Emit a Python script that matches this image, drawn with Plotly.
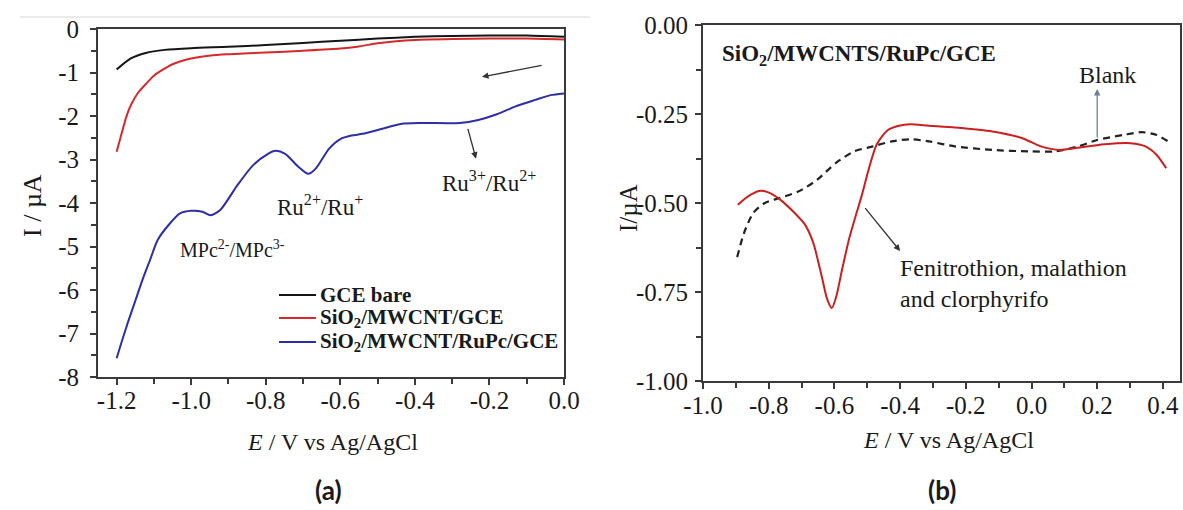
import plotly.graph_objects as go

W, H = 1183, 510
SERIF = "Liberation Serif"
INK = "#1a1a1a"
AXIS = "#3a3a3a"

# ---------------- panel (a): linear sweep voltammograms ----------------
series_names = ["GCE bare", "SiO<sub>2</sub>/MWCNT/GCE", "SiO<sub>2</sub>/MWCNT/RuPc/GCE"]
series_colors = ["#151515", "#d42a2a", "#2e2ea8"]

e_bare = [-1.2, -1.163, -1.122, -1.071, -1.0, -0.9, -0.8, -0.7, -0.6, -0.5,
          -0.4, -0.3, -0.2, -0.1, 0.0]
i_bare = [-0.93, -0.68, -0.55, -0.48, -0.44, -0.41, -0.37, -0.32, -0.27, -0.22,
          -0.18, -0.16, -0.15, -0.15, -0.18]

e_mwcnt = [-1.2, -1.185, -1.173, -1.16, -1.142, -1.12, -1.101, -1.075, -1.05,
           -1.0, -0.948, -0.896, -0.8, -0.7, -0.6, -0.55, -0.5, -0.45, -0.4,
           -0.3, -0.2, -0.1, 0.0]
i_mwcnt = [-2.82, -2.35, -1.99, -1.72, -1.46, -1.25, -1.08, -0.93, -0.81,
           -0.68, -0.61, -0.58, -0.54, -0.50, -0.45, -0.40, -0.33, -0.28, -0.25,
           -0.23, -0.22, -0.22, -0.24]

e_rupc = [-1.2, -1.185, -1.17, -1.15, -1.13, -1.11, -1.09, -1.06, -1.03, -1.0,
          -0.97, -0.948, -0.922, -0.876, -0.835, -0.794, -0.774, -0.748, -0.712,
          -0.686, -0.666, -0.63, -0.6, -0.57, -0.54, -0.49, -0.435, -0.384,
          -0.28, -0.23, -0.18, -0.13, -0.077, -0.036, 0.0]
i_rupc = [-7.57, -7.15, -6.75, -6.25, -5.75, -5.3, -4.85, -4.5, -4.24, -4.18,
          -4.2, -4.28, -4.16, -3.59, -3.14, -2.87, -2.80, -2.87, -3.17,
          -3.33, -3.21, -2.75, -2.53, -2.45, -2.41, -2.30, -2.18, -2.16,
          -2.16, -2.09, -1.96, -1.78, -1.63, -1.52, -1.48]

a_xticks = [-1.2, -1.0, -0.8, -0.6, -0.4, -0.2, 0.0]
a_xlabels = ["-1.2", "-1.0", "-0.8", "-0.6", "-0.4", "-0.2", "0.0"]
a_yticks = [0, -1, -2, -3, -4, -5, -6, -7, -8]
a_ylabels = ["0", "-1", "-2", "-3", "-4", "-5", "-6", "-7", "-8"]

# ---------------- panel (b): pesticide mixture vs blank ----------------
e_sample = [-0.894, -0.864, -0.829, -0.801, -0.767, -0.721, -0.69, -0.665,
            -0.64, -0.622, -0.608, -0.595, -0.575, -0.555, -0.535, -0.517,
            -0.494, -0.471, -0.437, -0.403, -0.369, -0.312, -0.233, -0.119,
            -0.028, 0.029, 0.086, 0.131, 0.222, 0.302, 0.347, 0.381, 0.41]
i_sample = [-0.505, -0.482, -0.466, -0.470, -0.489, -0.528, -0.56, -0.61,
            -0.70, -0.77, -0.795, -0.765, -0.68, -0.60, -0.535, -0.48,
            -0.40, -0.335, -0.295, -0.283, -0.279, -0.283, -0.288, -0.299,
            -0.318, -0.341, -0.351, -0.346, -0.335, -0.332, -0.341, -0.365,
            -0.402]

e_blank = [-0.896, -0.875, -0.847, -0.812, -0.767, -0.71, -0.653, -0.596,
           -0.54, -0.483, -0.426, -0.369, -0.312, -0.233, -0.119, -0.005,
           0.074, 0.143, 0.2, 0.279, 0.336, 0.381, 0.416]
i_blank = [-0.652, -0.584, -0.528, -0.500, -0.486, -0.468, -0.435, -0.388,
           -0.355, -0.341, -0.327, -0.321, -0.327, -0.341, -0.351, -0.355,
           -0.355, -0.341, -0.323, -0.309, -0.301, -0.309, -0.327]

b_xticks = [-1.0, -0.8, -0.6, -0.4, -0.2, 0.0, 0.2, 0.4]
b_xlabels = ["-1.0", "-0.8", "-0.6", "-0.4", "-0.2", "0.0", "0.2", "0.4"]
b_yticks = [0.0, -0.25, -0.5, -0.75, -1.0]
b_ylabels = ["0.00", "-0.25", "-0.50", "-0.75", "-1.00"]

fig = go.Figure()

curve = dict(shape="spline", smoothing=0.7, width=2)
for e, i, nm, col in zip([e_bare, e_mwcnt, e_rupc], [i_bare, i_mwcnt, i_rupc],
                         series_names, series_colors):
    fig.add_trace(go.Scatter(x=e, y=i, mode="lines", name=nm, showlegend=False,
                             line=dict(color=col, **curve), xaxis="x", yaxis="y"))

fig.add_trace(go.Scatter(x=e_blank, y=i_blank, mode="lines", name="Blank", showlegend=False,
                         line=dict(color="#222222", dash="7px,5px", shape="spline",
                                   smoothing=0.7, width=2.2),
                         xaxis="x2", yaxis="y2"))
fig.add_trace(go.Scatter(x=e_sample, y=i_sample, mode="lines", showlegend=False,
                         name="Fenitrothion, malathion and clorphyrifo",
                         line=dict(color="#cc2020", **curve), xaxis="x2", yaxis="y2"))

tickfont = dict(family=SERIF, size=25, color=INK)
common = dict(showline=True, linecolor=AXIS, linewidth=2, mirror=True,
              showgrid=False, zeroline=False, ticks="outside", ticklen=6,
              tickwidth=1.5, tickcolor=AXIS, tickfont=tickfont, automargin=False)

fig.update_layout(
    width=W, height=H,
    margin=dict(l=0, r=0, t=0, b=0, pad=0, autoexpand=False),
    font=dict(family=SERIF, size=25, color=INK),
    paper_bgcolor="white", plot_bgcolor="white",
    xaxis=dict(domain=[98 / W, 564 / W], range=[-1.25, 0.0], anchor="y",
               tickmode="array", tickvals=a_xticks, ticktext=a_xlabels,
               minor=dict(tick0=-1.2, dtick=0.1, ticks="outside", ticklen=5,
                          tickwidth=1.5, tickcolor=AXIS),
               ticklabelstandoff=-6, **common),
    yaxis=dict(domain=[(H - 377) / H, (H - 29) / H], range=[-8, 0], anchor="x",
               tickmode="array", tickvals=a_yticks, ticktext=a_ylabels,
               minor=dict(tick0=0, dtick=0.5, ticks="outside", ticklen=5,
                          tickwidth=1.5, tickcolor=AXIS),
               ticklabelstandoff=6, **common),
    xaxis2=dict(domain=[703 / W, 1180 / W], range=[-1.0, 0.452], anchor="y2",
                tickmode="array", tickvals=b_xticks, ticktext=b_xlabels,
                minor=dict(tick0=-1.0, dtick=0.1, ticks="outside", ticklen=5,
                           tickwidth=1.5, tickcolor=AXIS),
                ticklabelstandoff=-5, **common),
    yaxis2=dict(domain=[(H - 381) / H, (H - 25) / H], range=[-1.0, 0.0], anchor="x2",
                tickmode="array", tickvals=b_yticks, ticktext=b_ylabels,
                minor=dict(tick0=0, dtick=0.125, ticks="outside", ticklen=5,
                           tickwidth=1.5, tickcolor=AXIS),
                ticklabelstandoff=2, **common),
    showlegend=False,
)

shapes = []
# faint rule across the top of panel (a)
shapes.append(dict(type="line", xref="paper", yref="paper",
                   x0=20 / W, x1=590 / W, y0=(H - 17) / H, y1=(H - 17) / H,
                   line=dict(color="#e4e4e4", width=1.5)))

notes = []
txt = dict(family=SERIF, size=24, color=INK)
center = dict(xanchor="center", yanchor="middle", showarrow=False)

# key for panel (a): short line sample followed by the bold name
key_rows_px = [295, 318, 342]
for nm, col, ypx in zip(series_names, series_colors, key_rows_px):
    yp = (H - ypx) / H
    shapes.append(dict(type="line", xref="paper", yref="paper",
                       x0=279 / W, x1=316 / W, y0=yp, y1=yp,
                       line=dict(color=col, width=2)))
    notes.append(dict(text="<b>" + nm + "</b>", xref="paper", yref="paper",
                      x=318 / W, y=yp, xanchor="left", yanchor="middle",
                      showarrow=False, font=dict(family=SERIF, size=21, color=INK)))

# axis titles
notes += [
    dict(text="<i>E</i> / V vs Ag/AgCl", xref="paper", yref="paper",
         x=332 / W, y=(H - 442) / H, font=txt, **center),
    dict(text="<i>E</i> / V vs Ag/AgCl", xref="paper", yref="paper",
         x=948 / W, y=(H - 440) / H, font=txt, **center),
    dict(text="I / µA", xref="paper", yref="paper", x=32 / W, y=(H - 205) / H,
         textangle=-90, font=dict(family=SERIF, size=26, color=INK), **center),
    dict(text="I/µA", xref="paper", yref="paper", x=628 / W, y=(H - 208) / H,
         textangle=-90, font=dict(family=SERIF, size=25, color=INK), **center),
]

# panel labels
notes += [
    dict(text="<b>(a)</b>", xref="paper", yref="paper", x=328 / W, y=(H - 490) / H,
         font=dict(family="Lato", size=26, color=INK), **center),
    dict(text="<b>(b)</b>", xref="paper", yref="paper", x=942 / W, y=(H - 490) / H,
         font=dict(family="Lato", size=26, color=INK), **center),
]

# panel (a) peak labels and arrows
notes += [
    dict(text="Ru<sup>3+</sup>/Ru<sup>2+</sup>", xref="x", yref="y", x=-0.20, y=-3.5,
         showarrow=False, font=dict(family=SERIF, size=23, color=INK)),
    dict(text="Ru<sup>2+</sup>/Ru<sup>+</sup>", xref="x", yref="y", x=-0.654, y=-4.06,
         showarrow=False, font=dict(family=SERIF, size=23, color=INK)),
    dict(text="MPc<sup>2-</sup>/MPc<sup>3-</sup>", xref="x", yref="y", x=-0.889, y=-5.05,
         showarrow=False, font=dict(family=SERIF, size=20, color=INK)),
    dict(text="", xref="x", yref="y", axref="x", ayref="y",
         x=-0.22, y=-1.10, ax=-0.056, ay=-0.83, showarrow=True,
         arrowhead=2, arrowsize=1, arrowwidth=1.3, arrowcolor="#333"),
    dict(text="", xref="x", yref="y", axref="x", ayref="y",
         x=-0.236, y=-2.98, ax=-0.259, ay=-2.26, showarrow=True,
         arrowhead=2, arrowsize=1, arrowwidth=1.3, arrowcolor="#333"),
]

# panel (b) labels and arrows
notes += [
    dict(text="<b>SiO<sub>2</sub>/MWCNTS/RuPc/GCE</b>", xref="x2", yref="y2",
         x=-0.949, y=-0.085, xanchor="left", showarrow=False,
         font=dict(family=SERIF, size=23, color=INK)),
    dict(text="Blank", xref="x2", yref="y2", x=0.23, y=-0.14, showarrow=False,
         font=dict(family=SERIF, size=24, color=INK)),
    dict(text="", xref="x2", yref="y2", axref="x2", ayref="y2",
         x=0.2, y=-0.18, ax=0.2, ay=-0.32, showarrow=True,
         arrowhead=2, arrowsize=1, arrowwidth=1.3, arrowcolor="#6f7f8f"),
    dict(text="Fenitrothion, malathion<br>and clorphyrifo", xref="x2", yref="y2",
         x=-0.405, y=-0.727, xanchor="left", align="left", showarrow=False,
         font=dict(family=SERIF, size=24, color=INK)),
    dict(text="", xref="x2", yref="y2", axref="x2", ayref="y2",
         x=-0.40, y=-0.635, ax=-0.51, ay=-0.51, showarrow=True,
         arrowhead=2, arrowsize=1, arrowwidth=1.3, arrowcolor="#333"),
]

fig.update_layout(shapes=shapes, annotations=notes)
fig.write_html("out.html")
